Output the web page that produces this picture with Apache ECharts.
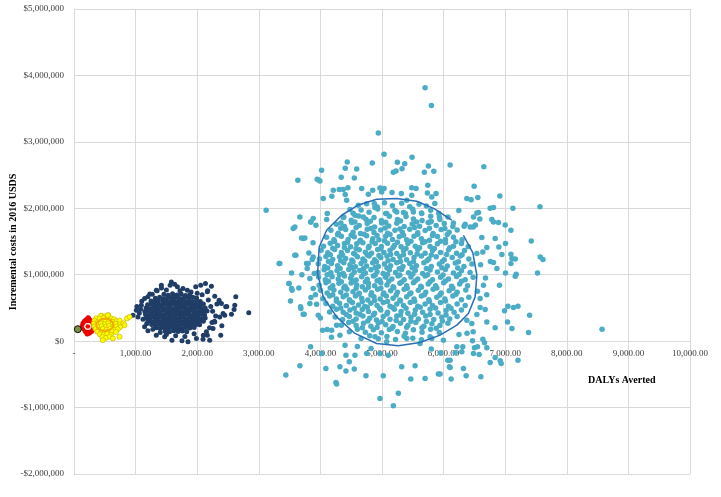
<!DOCTYPE html>
<html>
<head>
<meta charset="utf-8">
<script src="https://cdn.jsdelivr.net/npm/echarts@6/dist/echarts.min.js"></script>
<style>html,body{margin:0;padding:0;background:#fff}#c{width:721px;height:497px}</style>
</head>
<body>
<div id="c"></div>
<script>
// x: DALYs averted, y: incremental cost in thousands of 2016 USD
var xTicks = [0,1000,2000,3000,4000,5000,6000,7000,8000,9000,10000];
var yTicks = [-2000,-1000,0,1000,2000,3000,4000,5000];
var xTitle = 'DALYs Averted';
var yTitle = 'Incremental costs in 2016 USDS';

var lightBlueOuter = [[5700,3815],[5802,3549],[4940,3132],[5033,2812],[5488,2767],[5249,2692],[5369,2672],[5325,2597],[5753,2636],[5688,2541],[5841,2556],[6106,2651],[5184,2541],[5228,2561],[4842,2681],[4436,2696],[4403,2601],[4589,2591],[4019,2571],[3948,2436],[3992,2410],[3634,2421],[3119,1970],[4338,2466],[4550,2456],[4306,2281],[4371,2281],[4447,2311],[4403,2206],[4426,2120],[4046,2146],[4187,2180],[4670,2296],[4778,2210],[4849,2270],[4967,2305],[5033,2296],[4995,2245],[5163,2236],[5314,2221],[5483,2311],[5553,2296],[5743,2346],[5737,2230],[5878,2221],[5808,2170],[5857,2071],[5483,2195],[5402,2120],[4875,2071],[4886,2010],[4924,2020],[4480,1980],[4615,2045],[4111,1920],[3667,1869],[3846,1794],[3927,1744],[4101,1830],[4371,1860],[4333,1779],[4561,1895],[4696,1869],[5076,1920],[5239,1944],[5379,1920],[5509,1944],[5645,1920],[5780,1794],[5932,1869],[6247,1965],[6159,1779],[6377,2146],[6447,2130],[6496,2331],[6556,2161],[6540,1930],[6485,1869],[6431,1719],[3558,1695],
[6653,2626],[6913,2185],[6566,1935],[6756,2000],[6810,2010],[7125,2000],[7564,2025],[6588,1839],[6783,1830],[6891,1785],[7000,1749],[6333,1729],[6517,1749],
[6350,1759],[6480,1719],[6810,1794],[7093,1669],[7423,1508],[7569,1268],[7613,1228],[7525,1027],[8572,180],[6837,1544],[6702,1409],[6637,1343],[6540,1319],[6897,1418],[7005,1469],[6946,1304],[7093,1308],[7109,1243],[7163,1238],[7093,1168],[6810,1183],[6865,1093],[7005,1027],[7179,1007],[7163,977],[6907,842],[6647,842],[6593,642],[6675,477],[6593,507],[6989,456],[7044,526],[7135,507],[7207,526],[7396,391],[7038,290],[6837,200],[7109,191],[7379,131],[6702,290],[6540,401],[6458,266],[6377,316],
[6469,5],[6637,30],[6664,-26],[6501,-101],[6577,-200],[6702,-101],[6756,-320],[6837,-245],[6919,-296],[6935,-335],[7207,-286],[6312,-86],[6187,-176],[6068,-286],[6106,-396],[6366,-522],[6605,-537],[6122,-571],[5943,-496],
[3330,1168],[3532,1027],[3488,868],[3532,792],[3515,606],[3683,492],[3737,406],[3585,1293],[3720,1544],[3813,1328],[3776,1168],[3867,1229],[3829,943],[3883,792],[3846,657],[3938,556],[3965,391],[4035,165],[4111,176],[4182,165],[4263,241],[4317,90],[3841,-86],[3667,-371],[3439,-511],[4019,-185],[4089,-411],[4252,-621],[4263,-647],[4317,-386],[4415,-451],[4469,-311],[4415,-211],[4561,-211],[4550,-421],[4740,-522],[5021,-522],[4967,-862],[5184,-973],[5265,-786],[5320,-386],[5467,-571],[5537,-371],[5699,-561],[5915,-496],[6094,-386],[6106,-286],[4751,-185],[4822,-110],[4967,-185],[5103,-211],[4886,65],[5076,-10],[5402,40],[5618,-35],[5808,40],[5997,15],[6215,-86],[6296,-161],[6485,-185],[6550,-86],[6322,-411],
[3585,1719],[3694,1554],[3748,1554],[3602,1293],[3802,1168],[3786,1093],[3883,1268],[3493,868],[3541,767],[3678,516],[3720,406],[3341,1168],[3829,567],[3841,1794],[3883,1845],[3965,2431],[4209,2271],
[3880,1480],[3900,1020],[3920,700],[3700,1000],[3650,800],[6600,1150],[6680,950],[6620,1560],[6760,1200],[6700,700],[6550,750],[4000,350],[4180,60],[4400,-60],[4600,-80],[5800,-120],[5950,-180],[6250,100],[6380,120],[6480,140]];

var lightBlueCore = [
[4750,2070],[4890,2030],[5040,2085],[5170,2040],[5320,2075],[5450,2025],[5600,2060],[5720,2035],
[4530,1925],[4660,1975],[4790,1940],[4930,1990],[5060,1920],[5210,1965],[5350,1935],[5500,1985],[5640,1930],[5790,1970],[5920,1925],
[4380,1870],[4500,1820],[4620,1885],[4740,1835],[4870,1860],[4990,1815],[5120,1880],[5250,1830],[5390,1875],[5510,1840],[5650,1815],[5790,1880],[5940,1830],[6070,1870],
[4260,1760],[4390,1725],[4510,1785],[4630,1740],[4760,1770],[4880,1720],[4995,1780],[5110,1735],[5240,1775],[5360,1725],[5490,1765],[5610,1730],[5750,1785],[5880,1740],[6010,1770],[6150,1725],
[4170,1670],[4290,1625],[4410,1680],[4530,1640],[4650,1620],[4760,1685],[4870,1635],[4980,1675],[5090,1625],[5210,1670],[5330,1640],[5450,1685],[5580,1630],[5700,1665],[5830,1620],[5960,1680],[6090,1640],[6220,1675],
[4100,1565],[4220,1525],[4340,1580],[4450,1530],[4550,1570],[4650,1520],[4750,1585],[4850,1540],[4950,1525],[5060,1580],[5170,1530],[5280,1570],[5400,1525],[5520,1580],[5640,1540],[5770,1520],[5900,1575],[6030,1530],[6160,1565],[6300,1525],
[4050,1430],[4160,1475],[4280,1440],[4390,1470],[4490,1420],[4590,1465],[4690,1480],[4790,1430],[4890,1470],[4990,1425],[5090,1475],[5200,1440],[5310,1420],[5420,1470],[5540,1430],[5660,1480],[5780,1425],[5900,1465],[6030,1480],[6160,1430],[6290,1470],[6400,1425],
[4010,1370],[4120,1330],[4230,1380],[4340,1335],[4440,1365],[4540,1320],[4630,1375],[4730,1340],[4830,1325],[4930,1380],[5030,1335],[5130,1370],[5240,1320],[5350,1365],[5460,1330],[5580,1380],[5700,1325],[5820,1365],[5950,1335],[6080,1375],[6210,1325],[6340,1365],
[3985,1235],[4090,1275],[4200,1230],[4310,1270],[4410,1245],[4510,1220],[4600,1270],[4690,1235],[4790,1280],[4880,1225],[4980,1260],[5080,1280],[5180,1230],[5290,1270],[5400,1225],[5520,1260],[5640,1280],[5760,1235],[5880,1270],[6010,1225],[6140,1260],[6270,1280],[6410,1235],
[3965,1165],[4070,1125],[4180,1170],[4280,1135],[4380,1180],[4480,1150],[4570,1120],[4660,1170],[4750,1130],[4850,1180],[4940,1125],[5040,1160],[5140,1135],[5240,1180],[5340,1125],[5450,1170],[5560,1135],[5680,1180],[5800,1125],[5930,1160],[6060,1130],[6190,1175],[6330,1125],[6460,1160],
[3960,1035],[4060,1075],[4170,1030],[4270,1065],[4370,1020],[4460,1080],[4550,1040],[4640,1065],[4730,1025],[4820,1075],[4920,1045],[5020,1020],[5120,1070],[5220,1035],[5320,1080],[5430,1030],[5540,1065],[5660,1020],[5780,1070],[5900,1040],[6030,1080],[6160,1025],[6290,1060],[6430,1035],
[3970,965],[4080,925],[4190,970],[4290,935],[4390,980],[4490,945],[4580,920],[4670,970],[4760,930],[4860,980],[4960,925],[5060,960],[5160,935],[5260,980],[5360,925],[5470,965],[5580,935],[5700,980],[5820,925],[5950,960],[6080,935],[6210,975],[6350,925],[6480,960],
[3980,840],[4090,880],[4200,835],[4300,870],[4400,825],[4500,875],[4590,845],[4680,820],[4780,870],[4880,835],[4980,880],[5080,845],[5180,820],[5290,870],[5400,835],[5510,880],[5630,825],[5750,860],[5870,835],[6000,880],[6130,825],[6260,860],[6390,835],
[4000,765],[4110,725],[4220,770],[4330,735],[4430,780],[4530,745],[4630,720],[4730,770],[4830,730],[4930,780],[5030,725],[5140,760],[5250,735],[5360,780],[5470,725],[5590,765],[5710,735],[5830,780],[5960,725],[6090,760],[6220,735],[6360,770],
[4040,640],[4150,680],[4260,635],[4370,670],[4470,625],[4570,680],[4670,645],[4770,620],[4870,670],[4970,635],[5070,680],[5180,645],[5290,620],[5400,670],[5520,635],[5640,680],[5760,625],[5890,660],[6020,635],[6150,680],[6290,625],[6410,660],
[4090,565],[4200,525],[4310,570],[4420,535],[4520,580],[4620,545],[4720,520],[4820,570],[4920,535],[5020,580],[5130,525],[5240,560],[5350,535],[5460,580],[5580,525],[5700,560],[5820,535],[5950,580],[6080,525],[6220,560],[6350,535],
[4150,440],[4260,480],[4370,435],[4480,470],[4580,425],[4680,475],[4780,445],[4880,420],[4980,470],[5090,435],[5200,480],[5310,445],[5420,420],[5540,470],[5660,435],[5780,480],[5910,425],[6040,460],[6170,435],[6290,470],
[4240,365],[4360,325],[4470,370],[4580,335],[4690,380],[4800,345],[4910,320],[5020,370],[5130,330],[5240,380],[5350,325],[5470,360],[5590,335],[5710,380],[5840,325],[5970,360],[6100,335],[6220,370],
[4340,240],[4460,280],[4580,235],[4700,270],[4820,225],[4940,275],[5060,245],[5180,220],[5300,270],[5420,235],[5550,280],[5680,225],[5810,260],[5940,235],[6070,270],
[4470,140],[4600,180],[4730,135],[4860,170],[4990,125],[5120,175],[5250,145],[5380,120],[5510,170],[5650,135],[5790,180],[5930,130],
[4660,40],[4800,80],[4940,35],[5080,70],[5220,25],[5360,75],[5500,45],[5640,20],[5780,65]];

var lightBlueDense = [
[4560,1795],[4810,1805],[5060,1790],[5300,1810],[5560,1795],[5800,1800],
[4330,1700],[4580,1710],[4820,1695],[5050,1705],[5290,1690],[5530,1710],[5770,1700],[6020,1695],
[4280,1600],[4500,1595],[4710,1610],[4920,1590],[5130,1605],[5350,1595],[5580,1610],[5820,1590],[6060,1605],
[4230,1500],[4440,1490],[4640,1505],[4840,1495],[5040,1510],[5250,1490],[5470,1505],[5700,1495],[5950,1505],[6200,1495],
[4200,1400],[4390,1410],[4580,1395],[4780,1405],[4980,1390],[5180,1410],[5390,1395],[5610,1405],[5850,1395],[6100,1405],
[4160,1300],[4360,1295],[4560,1310],[4760,1300],[4950,1290],[5140,1305],[5350,1300],[5570,1310],[5800,1295],[6050,1305],[6300,1300],
[4130,1200],[4330,1210],[4530,1195],[4720,1205],[4910,1195],[5100,1210],[5300,1200],[5510,1195],[5730,1210],[5980,1200],[6240,1195],
[4120,1100],[4320,1095],[4520,1105],[4700,1095],[4890,1110],[5080,1100],[5280,1090],[5490,1105],[5720,1095],[5970,1105],[6230,1100],
[4110,1000],[4310,1005],[4510,995],[4700,1010],[4890,995],[5090,1005],[5290,995],[5500,1010],[5740,1000],[5990,995],[6250,1005],
[4130,900],[4340,895],[4540,905],[4730,895],[4920,910],[5110,900],[5320,890],[5540,905],[5780,895],[6030,905],[6290,900],
[4160,800],[4380,805],[4580,795],[4780,810],[4980,795],[5190,805],[5410,795],[5640,810],[5890,800],[6150,795],
[4200,700],[4420,695],[4620,710],[4820,695],[5020,705],[5230,695],[5450,710],[5690,700],[5940,695],[6200,705],
[4260,600],[4480,605],[4680,595],[4880,610],[5090,595],[5300,605],[5530,600],[5770,595],[6030,605],
[4330,500],[4550,495],[4760,510],[4960,495],[5170,505],[5390,495],[5620,510],[5870,500],[6120,495],
[4420,400],[4640,405],[4860,395],[5080,410],[5300,395],[5530,405],[5780,400],[6040,395],
[4530,300],[4770,305],[5000,295],[5230,310],[5470,300],[5720,295],[5980,305],
[4680,200],[4920,205],[5160,195],[5400,210],[5650,200],[5880,195]];

var lightBlueEllipse = [[4604,2045],[4913,2135],[5239,2146],[5564,2105],[5846,1995],[6133,1820],[6230,'-'],[6322,1594],[6475,1328],[6540,992],[6512,666],[6403,416],[6215,241],[5943,90],[5618,-20],[5265,-70],[4913,-35],[4561,116],[4263,365],[4046,666],[3954,1018],[3981,1418],[4101,1669],[4345,1895],[4604,2045]];

var navyOuter = [[1580,892],[1634,857],[1678,817],[1418,842],[1336,767],[1769,792],[1840,767],[1976,817],[2057,842],[2134,867],[2231,827],[2165,742],[2285,677],[2355,617],[2626,667],[2610,541],[2599,476],[2837,426],[2556,406],[2447,391],[2366,365],[2382,90],[2203,15],[2094,30],[1987,40],[1850,-10],[1753,5],[1590,15],[1472,65],[1336,90],[1200,155],[1146,215],[1038,365],[957,391],[1011,466],[1093,541],[1146,642],[1200,667],[1271,707],
[2393,567],[2463,516],[2420,416],[2285,290],[2257,191],[2165,90],
[1100,600],[1080,480],[1120,330],[1180,260],[1230,710],[1350,760],[1420,800],[1500,770],[1560,840],[1720,760],[1900,740],[2000,720],[2080,700],[2180,620],[2220,520],[2250,450],[2300,380],[2240,280],[2200,200],[2150,140],[2100,90],[1950,110],[1800,70],[1650,80],[1500,100],[1400,130],[1280,180],[1060,420],[1020,520],[2320,560],[2280,300],[2400,230],[2480,520],[2170,760]];

var navyCore = [
[1460,705],[1530,690],[1600,712],[1670,695],[1740,708],[1810,688],[1880,700],
[1320,645],[1390,660],[1450,640],[1520,655],[1590,648],[1650,662],[1720,642],[1790,655],[1860,645],[1930,660],[1990,650],
[1250,605],[1310,590],[1370,610],[1440,598],[1500,612],[1560,592],[1620,606],[1680,595],[1740,610],[1800,590],[1860,604],[1920,596],[1990,610],[2050,598],
[1195,548],[1255,560],[1315,545],[1375,556],[1435,540],[1495,558],[1555,548],[1615,562],[1675,544],[1735,556],[1795,546],[1855,560],[1915,542],[1975,554],[2040,548],[2100,558],
[1170,500],[1230,488],[1290,505],[1350,494],[1410,510],[1470,492],[1530,504],[1590,490],[1650,508],[1710,496],[1770,506],[1830,490],[1890,502],[1950,494],[2010,508],[2070,492],[2130,500],
[1150,448],[1210,458],[1270,442],[1330,455],[1390,445],[1450,460],[1510,440],[1570,452],[1630,446],[1690,458],[1750,442],[1810,455],[1870,447],[1930,460],[1990,440],[2050,452],[2110,446],[2160,455],
[1160,402],[1220,390],[1280,406],[1340,395],[1400,410],[1460,392],[1520,404],[1580,388],[1640,400],[1700,412],[1760,394],[1820,405],[1880,390],[1940,402],[2000,396],[2060,408],[2120,392],
[1170,352],[1230,340],[1290,356],[1350,345],[1410,358],[1470,342],[1530,350],[1590,338],[1650,354],[1710,344],[1770,358],[1830,340],[1890,352],[1950,346],[2010,356],[2070,342],[2130,350],
[1200,302],[1260,290],[1320,305],[1380,294],[1440,308],[1500,292],[1560,300],[1620,288],[1680,304],[1740,296],[1800,306],[1860,290],[1920,300],[1980,294],[2040,306],[2100,298],
[1260,252],[1320,240],[1380,256],[1440,245],[1500,258],[1560,242],[1620,250],[1680,238],[1740,254],[1800,246],[1860,256],[1920,242],[1980,250],[2040,246],
[1340,202],[1400,190],[1460,206],[1520,195],[1580,208],[1640,192],[1700,200],[1760,190],[1820,204],[1880,196],[1950,205],
[1480,150],[1550,140],[1620,155],[1690,145],[1760,152],[1830,142]];

var navyEllipse = [[2140,430],[2077,565],[1905,664],[1670,700],[1435,664],[1263,565],[1200,430],[1263,295],[1435,196],[1670,160],[1905,196],[2077,295],[2140,430]];

var yellowPts = [[440,385],[500,372],[555,390],
[360,345],[420,332],[480,348],[540,335],[600,344],[650,330],
[330,305],[390,292],[450,308],[510,296],[570,306],[630,290],[690,300],[740,310],
[320,262],[380,250],[440,266],[500,255],[560,268],[620,252],[680,262],[740,250],[800,270],
[330,222],[390,210],[450,226],[510,215],[570,228],[630,212],[690,222],[750,214],
[350,182],[410,170],[470,186],[530,174],[590,188],[650,172],[710,180],
[380,142],[440,130],[500,146],[560,134],[620,148],[680,136],
[420,102],[480,92],[540,108],[600,96],
[460,62],[520,50],[580,66],
[859,341],[902,366],[821,241],[740,65],[468,15],[631,40],[550,391],[415,341]];

var orangeEllipse = [[640,245],[621,292],[570,327],[500,340],[430,327],[379,292],[360,245],[379,198],[430,163],[500,150],[570,163],[621,198],[640,245]];

var redPts = [[140,230],[150,270],[160,190],[175,300],[185,150],[200,320],[210,130],[240,330],[250,125],[270,300],[285,150],[300,270],[310,190],[320,230],[330,250],[290,230],[160,230],[190,240],[260,200],[140,200],[170,260],[300,180],[195,290],[255,310],[280,280],[230,350],[215,110],[335,210]];
var redCentre = [[225,222]];
var redEllipse = [[280,222],[273,245],[253,261],[225,267],[197,261],[177,245],[170,222],[177,200],[197,183],[225,177],[253,183],[273,200],[280,222]];

var greenPts = [[62,180]];

var serif = '"Liberation Serif", "Times New Roman", serif';

function fmtX(v){ return v === 0 ? '-' : v.toLocaleString('en-US',{minimumFractionDigits:2, maximumFractionDigits:2}); }
function fmtY(v){ var s = Math.abs(v*1000).toLocaleString('en-US'); return (v < 0 ? '-$' : '$') + s; }

function scat(name, data, color, size, border, bw, z){
  return {type:'scatter', name:name, data:data, symbolSize:size, z:z,
    itemStyle:{color:color, borderColor:border || color, borderWidth:bw || 0, opacity:1},
    emphasis:{disabled:true}, silent:true};
}
function line(name, data, color, width, type, z){
  return {type:'line', name:name, data:data, showSymbol:false, z:z, connectNulls:false,
    lineStyle:{color:color, width:width, type:type || 'solid'}, emphasis:{disabled:true}, silent:true};
}

var chart = echarts.init(document.getElementById('c'), null, {renderer:'canvas'});
chart.setOption({
  animation:false,
  backgroundColor:'#ffffff',
  grid:{left:74, right:31, top:9, bottom:23, containLabel:false, outerBoundsMode:'none'},
  xAxis:{type:'value', min:xTicks[0], max:xTicks[xTicks.length-1], interval:1000,
    offset:-133,
    axisLine:{show:false, onZero:false},
    axisTick:{show:false},
    axisLabel:{formatter:fmtX, color:'#404040', fontFamily:serif, fontSize:9, margin:8},
    splitLine:{show:true, lineStyle:{color:'#d9d9d9', width:1}}},
  yAxis:{type:'value', min:yTicks[0], max:yTicks[yTicks.length-1], interval:1000,
    axisLine:{show:true, onZero:false, lineStyle:{color:'#d9d9d9'}},
    axisTick:{show:false},
    axisLabel:{formatter:fmtY, color:'#404040', fontFamily:serif, fontSize:9, margin:10},
    splitLine:{show:true, lineStyle:{color:'#d9d9d9', width:1}}},
  graphic:[
    {type:'text', left:588, top:375, style:{text:xTitle, font:'bold 10px ' + serif, fill:'#000'}},
    {type:'text', x:13, y:242, rotation:Math.PI/2, style:{text:yTitle, font:'bold 10px ' + serif, fill:'#000', align:'center', verticalAlign:'middle'}}
  ],
  series:[
    scat('lbOuter', lightBlueOuter, '#4bacc6', 5.5, null, 0, 2),
    scat('lbCore', lightBlueCore, '#4bacc6', 5.5, null, 0, 2),
    scat('lbDense', lightBlueDense, '#4bacc6', 5.5, null, 0, 2),
    line('lbEllipse', lightBlueEllipse, '#2a6fb8', 1.5, 'solid', 3),
    line('navyEllipse', navyEllipse, '#3a9ad9', 1, 'dashed', 3),
    scat('navyOuter', navyOuter, '#1f3d66', 5, null, 0, 4),
    scat('navyCore', navyCore, '#1f3d66', 5, null, 0, 4),
    scat('red', redPts, '#ff0000', 5, '#c00000', 0.5, 6),
    line('redEllipse', redEllipse, '#ffe6e6', 1.5, 'solid', 7),
    scat('redCentre', redCentre, '#ff0000', 4, null, 0, 7),
    scat('yellow', yellowPts, '#ffff00', 5, '#c8b400', 0.7, 8),
    line('orangeEllipse', orangeEllipse, '#f5a800', 1.8, 'solid', 9),
    scat('green', greenPts, '#7a8f45', 7, '#111111', 1, 10)
  ]
});
</script>
</body>
</html>
